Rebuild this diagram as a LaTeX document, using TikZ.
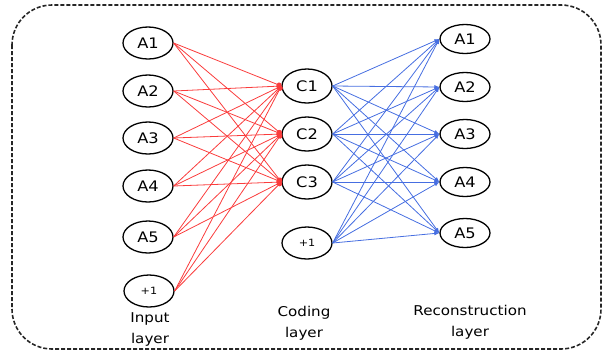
\documentclass[tikz,border=0pt]{standalone}
\usepackage{fontspec}
\usetikzlibrary{arrows.meta,shapes.geometric}
\newfontfamily\labelfont[FakeStretch=1.12]{DejaVu Sans}
\definecolor{inred}{RGB}{250,60,60}
\definecolor{outblue}{RGB}{70,110,225}
\tikzset{
  unit/.style={ellipse, draw=black, line width=1.3pt, inner sep=0pt,
    minimum width=50pt, minimum height=32pt, font=\labelfont\fontsize{14.5}{15}\selectfont},
  biasunit/.style={unit, font=\labelfont\fontsize{10}{10}\selectfont},
  outunit/.style={unit, minimum height=29pt},
  enc/.style={draw=inred, line width=0.8pt, -{Circle[length=5pt]}},
  dec/.style={draw=outblue, line width=0.8pt, -{Latex[length=5pt,width=4pt]}},
  caption/.style={font=\labelfont\fontsize{13.5}{21}\selectfont, align=center, inner sep=0pt},
  frame/.style={draw=black!85, line width=1.6pt, dash pattern=on 4pt off 2pt, rounded corners=40pt}
}
\begin{document}
\begin{tikzpicture}[x=1pt,y=-1pt]
\useasboundingbox (0,0) rectangle (607,354);
\draw[frame] (12,5) rectangle (601,349);

% input layer
\node[unit] (i1) at (148,43) {A1};
\node[unit] (i2) at (148,91) {A2};
\node[unit] (i3) at (148,138) {A3};
\node[unit] (i4) at (148,186) {A4};
\node[unit] (i5) at (148,237) {A5};
\node[biasunit] (i6) at (149,291) {+1};

% coding layer
\node[unit, minimum height=34pt] (c1) at (307,86) {C1};
\node[unit, minimum height=34pt] (c2) at (307,134) {C2};
\node[unit, minimum height=34pt] (c3) at (307,182) {C3};
\node[biasunit] (c4) at (307,243) {+1};

% reconstruction layer
\node[outunit] (o1) at (465,39) {A1};
\node[outunit] (o2) at (465,87) {A2};
\node[outunit] (o3) at (465,134) {A3};
\node[outunit] (o4) at (465,182) {A4};
\node[outunit] (o5) at (465,233) {A5};

% encoder weights
\foreach \i in {1,...,6}
  \foreach \c in {1,2,3}
    \draw[enc] (i\i.east) -- (c\c.west);

% decoder weights
\foreach \c in {1,...,4}
  \foreach \o in {1,...,5}
    \draw[dec] (c\c.east) -- (o\o.west);

% layer captions
\node[caption] (capin) at (150,329) {Input\\layer};
\node[caption] (capcode) at (304,323) {Coding\\layer};
\node[caption] (caprec) at (470,322) {Reconstruction\\layer};
\end{tikzpicture}
\end{document}
